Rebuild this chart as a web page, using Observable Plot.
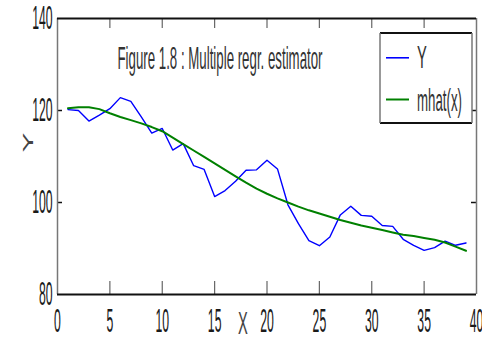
<!DOCTYPE html>
<html>
<head>
<meta charset="utf-8">
<script src="https://cdn.jsdelivr.net/npm/d3@7"></script>
<script src="https://cdn.jsdelivr.net/npm/@observablehq/plot@0.6"></script>
<style>
  html, body { margin: 0; padding: 0; background: #fff; }
  #chart svg { display: block; }
</style>
</head>
<body>
<div id="chart"></div>
<script>
// Design points and the two series: observed Y and the regression estimate mhat(x)
const xIndex = [1, 2, 3, 4, 5, 6, 7, 8, 9, 10, 11, 12, 13, 14, 15, 16, 17, 18, 19, 20,
                21, 22, 23, 24, 25, 26, 27, 28, 29, 30, 31, 32, 33, 34, 35, 36, 37, 38, 39];
const yObserved = [120.2, 120.0, 117.7, 119.0, 120.4, 122.8, 122.0, 118.6, 115.1, 116.1,
                   111.4, 112.8, 108.0, 107.2, 101.3, 102.6, 104.6, 107.0, 107.1, 109.2,
                   107.3, 99.5, 95.4, 91.7, 90.6, 92.5, 97.3, 99.2, 97.2, 97.0,
                   95.0, 94.8, 92.0, 90.7, 89.6, 90.2, 91.6, 90.7, 91.2];
const mhat = [120.5, 120.7, 120.7, 120.3, 119.4, 118.6, 117.9, 117.2, 116.4, 115.5,
              114.1, 112.7, 111.3, 109.9, 108.5, 107.1, 105.7, 104.3, 103.0, 101.9,
              100.9, 100.0, 99.1, 98.3, 97.6, 96.9, 96.2, 95.6, 95.0, 94.5,
              94.0, 93.5, 93.0, 92.7, 92.3, 91.9, 91.3, 90.4, 89.5];

const seriesNames = ["Y", "mhat(x)"];
const seriesColors = ["#0000ff", "#008000"];
const xTicks = [0, 5, 10, 15, 20, 25, 30, 35, 40];
const yTicks = [80, 100, 120, 140];
const innerTicksX = [5, 10, 15, 20, 25, 30, 35];
const innerTicksY = [100, 120];
const titleText = "Figure 1.8 : Multiple regr. estimator";
const xLabel = "X";
const yLabel = "Y";

const rowsY = xIndex.map((x, i) => ({x, v: yObserved[i]}));
const rowsM = xIndex.map((x, i) => ({x, v: mhat[i]}));

const W = 482, H = 341;
const mL = 57, mR = 6, mT = 18, mB = 47;
const frameW = W - mL - mR, frameH = H - mT - mB;
const font = "'Liberation Sans', Arial, Helvetica, sans-serif";
const ink = "#1a1a1a";

const chart = Plot.plot({
  width: W,
  height: H,
  marginLeft: mL,
  marginRight: mR,
  marginTop: mT,
  marginBottom: mB,
  style: {background: "#fff", fontFamily: font, color: ink},
  x: {domain: [0, 40], axis: null},
  y: {domain: [80, 140], axis: null},
  marks: [
    // inward tick marks on all four sides
    Plot.tickX(innerTicksX, {x: d => d, insetTop: frameH - 13, stroke: "#666", strokeWidth: 1.2}),
    Plot.tickX(innerTicksX, {x: d => d, insetBottom: frameH - 10, stroke: "#666", strokeWidth: 1.2}),
    Plot.tickY(innerTicksY, {y: d => d, insetRight: frameW - 5, stroke: "#111", strokeWidth: 1.5}),
    Plot.tickY(innerTicksY, {y: d => d, insetLeft: frameW - 5, stroke: "#111", strokeWidth: 1.5}),
    // box
    Plot.ruleX([0, 40], {x: d => d, stroke: "#777", strokeWidth: 1.5}),
    Plot.ruleY([80, 140], {y: d => d, stroke: "#111", strokeWidth: 2}),
    // series
    Plot.line(rowsY, {x: "x", y: "v", stroke: seriesColors[0], strokeWidth: 1.4}),
    Plot.line(rowsM, {x: "x", y: "v", stroke: seriesColors[1], strokeWidth: 2}),
    // tick labels
    Plot.text(xTicks, {x: d => d, text: d => String(d), frameAnchor: "bottom", lineAnchor: "top",
                       dy: 14, fontSize: 33, fill: ink}),
    Plot.text(yTicks, {y: d => d, text: d => String(d), frameAnchor: "left", textAnchor: "end",
                       lineAnchor: "middle", dx: -5, fontSize: 33, fill: ink}),
    // title and axis labels
    Plot.text([titleText], {text: d => d, frameAnchor: "top", lineAnchor: "middle",
                            dx: -47, dy: 40, fontSize: 32, fill: "#333"}),
    Plot.text([xLabel], {text: d => d, frameAnchor: "bottom", lineAnchor: "middle",
                         dx: -24, dy: 29, fontSize: 32, fill: "#444"}),
    Plot.text([yLabel], {text: d => d, frameAnchor: "left", lineAnchor: "middle", rotate: -90,
                         dx: -29, dy: -4, fontSize: 30, fill: "#444"})
  ]
});

document.getElementById("chart").appendChild(chart);

// legend box in the upper right of the frame
const svg = d3.select(chart);
const lg = svg.append("g").attr("font-family", font).attr("fill", ink).attr("text-anchor", "start");
const bx = 380, by = 33, bw = 92, bh = 90;
lg.append("rect").attr("x", bx).attr("y", by).attr("width", bw).attr("height", bh).attr("fill", "#fff");
lg.append("line").attr("x1", bx).attr("x2", bx + bw).attr("y1", by).attr("y2", by).attr("stroke", "#111").attr("stroke-width", 2);
lg.append("line").attr("x1", bx).attr("x2", bx + bw).attr("y1", by + bh).attr("y2", by + bh).attr("stroke", "#111").attr("stroke-width", 2);
lg.append("line").attr("x1", bx).attr("x2", bx).attr("y1", by).attr("y2", by + bh).attr("stroke", "#777").attr("stroke-width", 1.5);
lg.append("line").attr("x1", bx + bw).attr("x2", bx + bw).attr("y1", by).attr("y2", by + bh).attr("stroke", "#777").attr("stroke-width", 1.5);
const entryY = [57.8, 99.5];
seriesNames.forEach((name, i) => {
  lg.append("line").attr("x1", bx + 6).attr("x2", bx + 29).attr("y1", entryY[i]).attr("y2", entryY[i])
    .attr("stroke", seriesColors[i]).attr("stroke-width", i === 0 ? 1.6 : 2);
  lg.append("text").attr("x", bx + 37).attr("y", entryY[i] + (i === 0 ? 0 : 1)).attr("dy", "0.32em")
    .attr("text-anchor", "start").attr("font-size", 32).attr("fill", "#333").text(name);
});

// narrow, tall lettering: squeeze every label horizontally about its anchor
chart.querySelectorAll("text").forEach(t => {
  const numeric = /^\d+$/.test(t.textContent.trim());
  const sx = numeric ? 0.37 : (t.textContent.trim().length === 1 ? 0.46 : 0.415);
  const tr = t.getAttribute("transform");
  if (tr && /translate\(/.test(tr)) {
    t.setAttribute("transform", tr.replace(/translate\([^)]*\)/, m => `${m} scale(${sx},1)`));
  } else {
    const x = +(t.getAttribute("x") || 0), y = +(t.getAttribute("y") || 0);
    t.removeAttribute("x");
    t.removeAttribute("y");
    t.setAttribute("transform", `translate(${x},${y}) scale(${sx},1)` + (tr ? " " + tr : ""));
  }
});
</script>
</body>
</html>
